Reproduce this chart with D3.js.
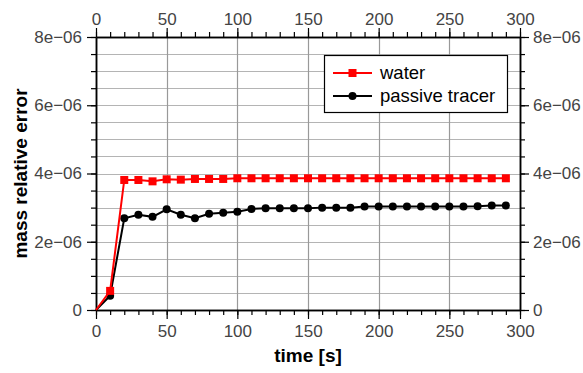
<!DOCTYPE html>
<html>
<head>
<meta charset="utf-8">
<script src="https://cdn.jsdelivr.net/npm/d3@7"></script>
<style>
  html, body { margin: 0; padding: 0; background: #fff; }
  svg { display: block; font-family: "Liberation Sans", Arial, sans-serif; }
</style>
</head>
<body>
<svg id="chart" width="583" height="373"></svg>
<script>
// Simulation time (s)
const time = [0, 10, 20, 30, 40, 50, 60, 70, 80, 90, 100, 110, 120, 130, 140, 150,
              160, 170, 180, 190, 200, 210, 220, 230, 240, 250, 260, 270, 280, 290];
// Mass relative error per species
const water = [0, 0.56e-6, 3.81e-6, 3.81e-6, 3.77e-6, 3.83e-6, 3.82e-6, 3.84e-6, 3.84e-6, 3.84e-6,
               3.86e-6, 3.86e-6, 3.86e-6, 3.86e-6, 3.86e-6, 3.86e-6, 3.86e-6, 3.86e-6, 3.86e-6, 3.86e-6,
               3.86e-6, 3.86e-6, 3.86e-6, 3.86e-6, 3.86e-6, 3.86e-6, 3.86e-6, 3.86e-6, 3.86e-6, 3.86e-6];
const tracer = [0, 0.42e-6, 2.69e-6, 2.79e-6, 2.73e-6, 2.95e-6, 2.79e-6, 2.69e-6, 2.82e-6, 2.85e-6,
                2.88e-6, 2.96e-6, 2.98e-6, 2.98e-6, 2.98e-6, 2.98e-6, 3.00e-6, 3.00e-6, 3.00e-6, 3.03e-6,
                3.03e-6, 3.03e-6, 3.03e-6, 3.03e-6, 3.03e-6, 3.03e-6, 3.03e-6, 3.04e-6, 3.06e-6, 3.06e-6];
const xMajor = [0, 50, 100, 150, 200, 250, 300];
const yMajor = [0, 2e-6, 4e-6, 6e-6, 8e-6];
const yTickLabels = ["0", "2e\u221206", "4e\u221206", "6e\u221206", "8e\u221206"];
const seriesNames = ["water", "passive tracer"];

const svg = d3.select("#chart");
const L = 96, R = 520, T = 37, B = 310;
const x = d3.scaleLinear().domain([0, 300]).range([L, R]);
const y = d3.scaleLinear().domain([0, 8e-6]).range([B, T]);

const xMinor = d3.range(0, 301, 10);
const yMinor = d3.range(0, 16.5, 1).map(v => v * 0.5e-6);

// grid
const grid = svg.append("g");
grid.selectAll("line.h").data(yMinor.filter(v => v > 0 && v < 8e-6)).join("line")
  .attr("x1", L).attr("x2", R)
  .attr("y1", d => Math.round(y(d)) + 0.5).attr("y2", d => Math.round(y(d)) + 0.5)
  .attr("stroke", "#b4b4b4").attr("stroke-width", 1.2);
grid.selectAll("line.v").data(xMajor.filter(v => v > 0 && v < 300)).join("line")
  .attr("y1", T).attr("y2", B)
  .attr("x1", d => Math.round(x(d)) + 0.5).attr("x2", d => Math.round(x(d)) + 0.5)
  .attr("stroke", "#999").attr("stroke-width", 1.2);

// axes
const fmtY = d => yTickLabels[yMajor.findIndex(v => Math.abs(v - d) < 1e-9)];
function styleAxis(g) {
  g.select(".domain").attr("stroke", "#000").attr("stroke-width", 1.5);
  g.selectAll(".tick line").attr("stroke", "#000").attr("stroke-width", 1.2);
  g.selectAll(".tick text").attr("fill", "#444").style("font-size", "17px")
    .style("font-family", "'Liberation Sans', Arial, sans-serif");
}
function minorAxis(axis, vals) {
  return axis.tickValues(vals).tickSize(5).tickFormat("").tickSizeOuter(0);
}
// minor ticks
svg.append("g").attr("transform", `translate(0,${B})`)
  .call(minorAxis(d3.axisBottom(x), xMinor)).call(styleAxis);
svg.append("g").attr("transform", `translate(0,${T})`)
  .call(minorAxis(d3.axisTop(x), xMinor)).call(styleAxis);
svg.append("g").attr("transform", `translate(${L},0)`)
  .call(minorAxis(d3.axisLeft(y), yMinor)).call(styleAxis);
svg.append("g").attr("transform", `translate(${R},0)`)
  .call(minorAxis(d3.axisRight(y), yMinor)).call(styleAxis);
// major ticks with labels
svg.append("g").attr("transform", `translate(0,${B})`)
  .call(d3.axisBottom(x).tickValues(xMajor).tickSize(9).tickSizeOuter(0).tickPadding(6))
  .call(styleAxis);
svg.append("g").attr("transform", `translate(0,${T})`)
  .call(d3.axisTop(x).tickValues(xMajor).tickSize(9).tickSizeOuter(0).tickPadding(3))
  .call(styleAxis);
svg.append("g").attr("transform", `translate(${L},0)`)
  .call(d3.axisLeft(y).tickValues(yMajor).tickSize(9).tickSizeOuter(0).tickFormat(fmtY).tickPadding(5))
  .call(styleAxis);
svg.append("g").attr("transform", `translate(${R},0)`)
  .call(d3.axisRight(y).tickValues(yMajor).tickSize(9).tickSizeOuter(0).tickFormat(fmtY).tickPadding(4))
  .call(styleAxis);

// axis titles
svg.append("text").attr("x", (L + R) / 2).attr("y", 362).attr("text-anchor", "middle")
  .style("font-size", "19px").style("font-weight", "bold").text("time [s]");
svg.append("text").attr("transform", `translate(27,${(T + B) / 2}) rotate(-90)`)
  .attr("text-anchor", "middle")
  .style("font-size", "19px").style("font-weight", "bold").text("mass relative error");

// series
const line = d3.line().x(d => x(d[0])).y(d => y(d[1]));
const waterPts = time.map((t, i) => [t, water[i]]);
const tracerPts = time.map((t, i) => [t, tracer[i]]);

svg.append("path").datum(tracerPts).attr("d", line)
  .attr("fill", "none").attr("stroke", "#000").attr("stroke-width", 2);
svg.append("g").selectAll("circle").data(tracerPts.slice(1)).join("circle")
  .attr("cx", d => x(d[0])).attr("cy", d => y(d[1])).attr("r", 4).attr("fill", "#000");

svg.append("path").datum(waterPts).attr("d", line)
  .attr("fill", "none").attr("stroke", "#f00").attr("stroke-width", 2);
svg.append("g").selectAll("rect").data(waterPts.slice(1)).join("rect")
  .attr("x", d => x(d[0]) - 4).attr("y", d => y(d[1]) - 4)
  .attr("width", 8).attr("height", 8).attr("fill", "#f00");

// legend
const lg = svg.append("g");
lg.append("rect").attr("x", 324.5).attr("y", 55.5).attr("width", 183).attr("height", 57)
  .attr("fill", "#fff").attr("stroke", "#000").attr("stroke-width", 1.2);
const rows = [73, 96];
lg.append("line").attr("x1", 333).attr("x2", 372).attr("y1", rows[0]).attr("y2", rows[0])
  .attr("stroke", "#f00").attr("stroke-width", 2);
lg.append("rect").attr("x", 348.5).attr("y", rows[0] - 4).attr("width", 8).attr("height", 8).attr("fill", "#f00");
lg.append("line").attr("x1", 333).attr("x2", 372).attr("y1", rows[1]).attr("y2", rows[1])
  .attr("stroke", "#000").attr("stroke-width", 2);
lg.append("circle").attr("cx", 352.5).attr("cy", rows[1]).attr("r", 4).attr("fill", "#000");
lg.selectAll("text").data(seriesNames).join("text")
  .attr("x", 380).attr("y", (d, i) => rows[i]).attr("dy", "0.35em")
  .style("font-size", "18.5px").attr("fill", "#000").text(d => d);
</script>
</body>
</html>
